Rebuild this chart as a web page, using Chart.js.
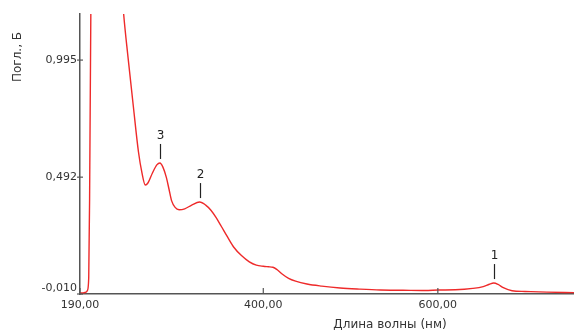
<!DOCTYPE html>
<html lang="ru">
<head>
    <meta charset="UTF-8">
    <title>Спектр поглощения</title>
    <script src="https://cdn.jsdelivr.net/npm/chart.js"></script>
    <style>
        body {
            margin: 0;
            padding: 0;
            background: white;
        }
        #spectrum {
            display: block;
        }
    </style>
</head>
<body>
    <canvas id="spectrum" width="574" height="333"></canvas>

    <script>
        // длина волны, нм
        const wavelengths = [190, 194, 197, 198.5, 200, 201, 202.4, 204, 207, 212,
            220, 228, 235, 240, 245, 251, 257, 261, 264.8, 268,
            273, 278, 281.6, 285, 289, 292, 295, 299, 303.5, 310,
            318, 327, 334, 340, 346, 352, 359, 366, 375, 384,
            392, 400, 406, 411, 416, 422, 429, 437, 450, 467,
            488, 510, 534, 560, 585, 601, 620, 640, 652, 659,
            664, 669, 675, 685, 700, 725, 756];
        // поглощение, Б
        const absorbance = [-0.006, -0.005, -0.002, 0.005, 0.06, 0.40, 1.19, 1.55, 1.85, 2.0,
            2.0, 1.75, 1.45, 1.193, 1.008, 0.80, 0.60, 0.51, 0.458, 0.468,
            0.51, 0.545, 0.553, 0.535, 0.49, 0.44, 0.39, 0.362, 0.352, 0.356,
            0.372, 0.385, 0.372, 0.350, 0.318, 0.280, 0.235, 0.192, 0.155, 0.128,
            0.114, 0.109, 0.107, 0.105, 0.094, 0.075, 0.057, 0.045, 0.033, 0.024,
            0.016, 0.011, 0.007, 0.006, 0.005, 0.007, 0.008, 0.014, 0.022, 0.032,
            0.037, 0.031, 0.017, 0.004, 0.001, -0.002, -0.004];

        const xTicks = [190, 400, 600];
        const yTicks = [-0.010, 0.492, 0.995];

        // пики
        const peakLabels = ['3', '2', '1'];
        const peakWl = [281.6, 327.4, 664];
        const peakAbs = [0.553, 0.385, 0.037];

        const fmt = (v, d) => v.toFixed(d).replace('.', ',');

        const decorPlugin = {
            id: 'decor',
            afterDraw(chart) {
                const ctx = chart.ctx;
                const x = chart.scales.x;
                const y = chart.scales.y;
                ctx.save();

                // подписи и засечки оси Y
                ctx.font = '11px "DejaVu Sans"';
                ctx.fillStyle = '#333';
                ctx.textAlign = 'right';
                ctx.textBaseline = 'middle';
                ctx.strokeStyle = '#555';
                ctx.lineWidth = 1.2;
                yTicks.forEach(v => {
                    const py = y.getPixelForValue(v);
                    ctx.fillText(fmt(v, 3), x.left - 3, Math.min(py, y.bottom - 6));
                    ctx.beginPath();
                    ctx.moveTo(x.left - 3, py);
                    ctx.lineTo(x.left + 3, py);
                    ctx.stroke();
                });

                // засечки оси X
                xTicks.forEach(v => {
                    const px = x.getPixelForValue(v);
                    ctx.beginPath();
                    ctx.moveTo(px, y.bottom);
                    ctx.lineTo(px, y.bottom - 6);
                    ctx.stroke();
                });

                // метки пиков
                ctx.strokeStyle = '#222';
                ctx.lineWidth = 1.2;
                ctx.fillStyle = '#222';
                ctx.font = '12px "DejaVu Sans"';
                ctx.textAlign = 'center';
                ctx.textBaseline = 'alphabetic';
                peakLabels.forEach((lab, i) => {
                    const px = Math.round(x.getPixelForValue(peakWl[i])) + 0.5;
                    const py = y.getPixelForValue(peakAbs[i]);
                    ctx.beginPath();
                    ctx.moveTo(px, py - 4);
                    ctx.lineTo(px, py - 19);
                    ctx.stroke();
                    ctx.fillText(lab, px, py - 24);
                });

                // названия осей
                ctx.fillStyle = '#333';
                ctx.font = '12px "DejaVu Sans"';
                ctx.textBaseline = 'middle';
                ctx.fillText('Длина волны (нм)', 390, 325);
                ctx.translate(18, 57);
                ctx.rotate(-Math.PI / 2);
                ctx.fillText('Погл., Б', 0, 0);
                ctx.restore();
            }
        };

        const points = wavelengths.map((w, i) => ({ x: w, y: absorbance[i] }));

        new Chart(document.getElementById('spectrum'), {
            type: 'line',
            data: {
                datasets: [{
                    data: points,
                    borderColor: '#ee2a2a',
                    borderWidth: 1.4,
                    pointRadius: 0,
                    fill: false,
                    cubicInterpolationMode: 'monotone'
                }]
            },
            options: {
                responsive: false,
                animation: false,
                layout: { padding: { top: 14, right: 0, left: 0, bottom: 0 } },
                plugins: {
                    legend: { display: false },
                    tooltip: { enabled: false }
                },
                scales: {
                    x: {
                        type: 'linear',
                        min: 190,
                        max: 756,
                        afterBuildTicks: s => { s.ticks = xTicks.map(v => ({ value: v })); },
                        afterFit: s => { s.height = 39; },
                        grid: { display: false, drawTicks: false },
                        border: { display: true, color: '#555', width: 1.5 },
                        ticks: {
                            padding: 5,
                            maxRotation: 0,
                            autoSkip: false,
                            color: '#333',
                            font: { family: 'DejaVu Sans', size: 11 },
                            callback: v => fmt(v, 2)
                        }
                    },
                    y: {
                        min: -0.010,
                        max: 1.193,
                        afterFit: s => { s.width = 80; },
                        grid: { display: false, drawTicks: false },
                        border: { display: true, color: '#555', width: 1.5 },
                        ticks: { display: false }
                    }
                }
            },
            plugins: [decorPlugin]
        });
    </script>
</body>
</html>
